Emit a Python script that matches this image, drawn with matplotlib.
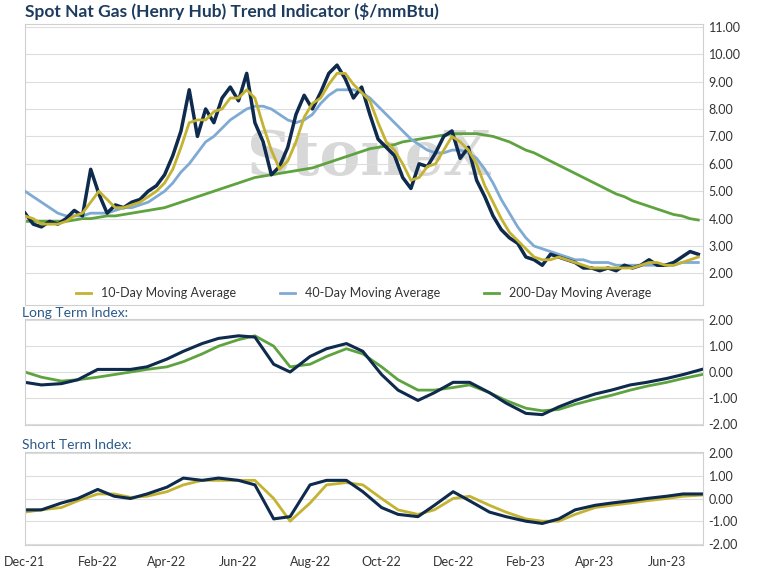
import matplotlib
matplotlib.use("Agg")
import matplotlib.pyplot as plt
import pandas as pd

plt.rcParams['font.family'] = ['Lato', 'DejaVu Sans']

spot = [4.2,3.8,3.7,3.9,3.8,4.0,4.3,4.1,5.8,4.9,4.2,4.5,4.4,4.6,4.7,5.0,5.2,5.6,6.3,7.2,
        8.7,7.0,8.0,7.5,8.4,8.8,8.3,9.3,7.5,6.8,5.6,5.9,6.6,7.8,8.5,8.0,8.6,9.3,9.6,9.1,
        8.4,8.8,7.8,6.9,6.6,6.3,5.5,5.1,6.0,5.9,6.4,7.0,7.2,6.2,6.6,5.4,4.8,4.1,3.6,3.3,
        3.1,2.6,2.5,2.3,2.7,2.6,2.5,2.4,2.2,2.2,2.1,2.2,2.1,2.3,2.2,2.3,2.5,2.3,2.3,2.4,
        2.6,2.8,2.7]
ma10 = [4.1,4.0,3.8,3.8,3.8,3.9,4.1,4.2,4.6,5.0,4.7,4.4,4.4,4.5,4.6,4.8,5.0,5.3,5.8,6.6,
        7.5,7.6,7.6,7.9,8.0,8.4,8.4,8.7,8.4,7.4,6.5,5.8,6.1,6.8,7.7,8.2,8.4,8.9,9.3,9.3,
        8.9,8.6,8.3,7.5,6.8,6.5,6.0,5.4,5.5,5.9,6.0,6.5,7.0,6.8,6.5,6.0,5.2,4.6,4.0,3.5,
        3.2,2.9,2.6,2.5,2.5,2.6,2.5,2.4,2.3,2.2,2.2,2.2,2.2,2.2,2.2,2.3,2.4,2.4,2.3,2.3,
        2.4,2.5,2.6]
ma40 = [5.0,4.8,4.6,4.4,4.2,4.1,4.1,4.1,4.2,4.2,4.2,4.3,4.4,4.4,4.5,4.6,4.8,5.0,5.3,5.7,
        6.0,6.4,6.8,7.0,7.3,7.6,7.8,8.0,8.1,8.1,8.0,7.8,7.6,7.5,7.6,7.8,8.2,8.5,8.7,8.7,
        8.7,8.6,8.4,8.1,7.8,7.5,7.2,6.9,6.7,6.5,6.4,6.4,6.5,6.5,6.4,6.2,5.8,5.3,4.7,4.2,
        3.7,3.3,3.0,2.9,2.8,2.7,2.6,2.5,2.5,2.4,2.4,2.4,2.3,2.3,2.3,2.3,2.3,2.3,2.3,2.3,
        2.4,2.4,2.4]
ma200 = [3.9,3.9,3.9,3.9,3.9,3.9,3.95,4.0,4.0,4.05,4.1,4.1,4.15,4.2,4.25,4.3,4.35,4.4,4.5,4.6,
         4.7,4.8,4.9,5.0,5.1,5.2,5.3,5.4,5.5,5.55,5.6,5.65,5.7,5.75,5.8,5.85,5.95,6.05,6.15,6.25,
         6.35,6.45,6.55,6.6,6.65,6.7,6.8,6.85,6.9,6.95,7.0,7.05,7.1,7.1,7.1,7.1,7.05,7.0,6.9,6.8,
         6.65,6.5,6.4,6.25,6.1,5.95,5.8,5.65,5.5,5.35,5.2,5.05,4.9,4.8,4.65,4.55,4.45,4.35,4.25,4.15,
         4.1,4.0,3.95]
long_idx = [-0.4,-0.5,-0.45,-0.3,0.1,0.1,0.1,0.2,0.5,0.8,1.1,1.3,1.4,1.35,0.3,0.0,0.6,0.9,1.1,0.8,
            -0.1,-0.7,-1.1,-0.8,-0.4,-0.4,-0.8,-1.2,-1.6,-1.65,-1.35,-1.1,-0.85,-0.7,-0.5,-0.4,-0.25,-0.1,0.1]
long_sig = [0.0,-0.2,-0.35,-0.3,-0.2,-0.1,0.0,0.1,0.2,0.4,0.7,1.0,1.25,1.4,1.0,0.2,0.3,0.6,0.9,0.7,
            0.2,-0.3,-0.7,-0.7,-0.6,-0.5,-0.8,-1.1,-1.4,-1.5,-1.45,-1.25,-1.05,-0.9,-0.7,-0.55,-0.4,-0.25,-0.1]
short_idx = [-0.5,-0.5,-0.2,0.0,0.4,0.1,0.0,0.2,0.5,0.9,0.8,0.9,0.8,0.6,-0.9,-0.8,0.6,0.8,0.8,0.3,
             -0.4,-0.7,-0.8,-0.3,0.3,-0.1,-0.6,-0.8,-1.0,-1.1,-0.9,-0.5,-0.3,-0.2,-0.1,0.0,0.1,0.2,0.2]
short_sig = [-0.6,-0.5,-0.4,-0.1,0.2,0.2,0.05,0.1,0.3,0.6,0.8,0.8,0.8,0.8,0.0,-1.0,-0.2,0.6,0.7,0.6,
             0.0,-0.5,-0.7,-0.5,0.0,0.1,-0.3,-0.6,-0.9,-1.0,-1.0,-0.7,-0.4,-0.3,-0.2,-0.1,0.0,0.1,0.15]
xtick_labels = ['Dec-21','Feb-22','Apr-22','Jun-22','Aug-22','Oct-22','Dec-22','Feb-23','Apr-23','Jun-23']

wk = pd.date_range('2021-12-01', periods=len(spot), freq='7D')
sm = pd.date_range('2021-12-01', periods=len(long_idx), freq='SMS')
xt = pd.to_datetime(['2021-12-01','2022-02-01','2022-04-01','2022-06-01','2022-08-01','2022-10-01',
                     '2022-12-01','2023-02-01','2023-04-01','2023-06-01'])
xmin, xmax = pd.Timestamp('2021-12-01'), pd.Timestamp('2023-07-02')

NAVY, GOLD, BLUE, GREEN = '#0e2a4d', '#c4b231', '#7eaad4', '#5ea33f'
TXT = '#333333'

fig = plt.figure(figsize=(7.58, 5.72), dpi=100)
W, H = 758, 572
def ax_at(l, t, r, b):
    return fig.add_axes([l/W, 1-b/H, (r-l)/W, (b-t)/H])

def style(ax, ylim, yticks):
    ax.set_xlim(xmin, xmax)
    ax.set_ylim(*ylim)
    ax.set_yticks(yticks)
    ax.set_yticklabels([f'{v:.2f}' for v in yticks], fontsize=9, color=TXT)
    ax.yaxis.tick_right()
    ax.grid(axis='y', color='#dddddd', lw=0.8)
    ax.set_axisbelow(True)
    for s in ax.spines.values():
        s.set_color('#d0d0d0'); s.set_linewidth(0.8)
    ax.tick_params(length=0, pad=4)
    ax.set_xticks(xt)
    ax.set_xticklabels([])

ax1 = ax_at(25, 24, 703, 305)
style(ax1, (0.85, 11.1), [2,3,4,5,6,7,8,9,10,11])
ax1.text(pd.Timestamp('2022-09-20'), 6.2, 'StoneX', fontsize=44, color='#d8d8d8',
         ha='center', va='center', fontfamily='DejaVu Serif', fontweight='bold', zorder=0)
ax1.plot(wk, ma200, color=GREEN, lw=2, label='200-Day Moving Average', zorder=2)
ax1.plot(wk, ma40, color=BLUE, lw=2, label='40-Day Moving Average', zorder=3)
ax1.plot(wk, spot, color=NAVY, lw=2.5, zorder=4)
ax1.plot(wk, ma10, color=GOLD, lw=2, label='10-Day Moving Average', zorder=5)
h, l = ax1.get_legend_handles_labels()
order = [2, 1, 0]
ax1.legend([h[i] for i in order], [l[i] for i in order], loc='lower center', ncol=3,
           frameon=False, fontsize=9, bbox_to_anchor=(0.5, -0.02), columnspacing=3.5,
           handlelength=1.2, labelcolor=TXT)
fig.text(25/W, 1-12/H, 'Spot Nat Gas (Henry Hub) Trend Indicator ($/mmBtu)', fontsize=12.5,
         fontweight='bold', color='#1d3b5e', va='center')

ax2 = ax_at(25, 319, 703, 425)
style(ax2, (-2.05, 2.05), [-2,-1,0,1,2])
ax2.plot(sm, long_sig, color=GREEN, lw=2)
ax2.plot(sm, long_idx, color=NAVY, lw=2.2)
fig.text(22/W, 1-313/H, 'Long Term Index:', fontsize=10, color='#2b5a8a', va='center')

ax3 = ax_at(25, 452, 703, 545)
style(ax3, (-2.05, 2.05), [-2,-1,0,1,2])
ax3.plot(sm, short_sig, color=GOLD, lw=2)
ax3.plot(sm, short_idx, color=NAVY, lw=2.2)
ax3.set_xticklabels(xtick_labels, fontsize=9, color=TXT)
ax3.tick_params(axis='x', pad=8)
fig.text(22/W, 1-445/H, 'Short Term Index:', fontsize=10, color='#2b5a8a', va='center')

fig.savefig('out.png', dpi=100)
